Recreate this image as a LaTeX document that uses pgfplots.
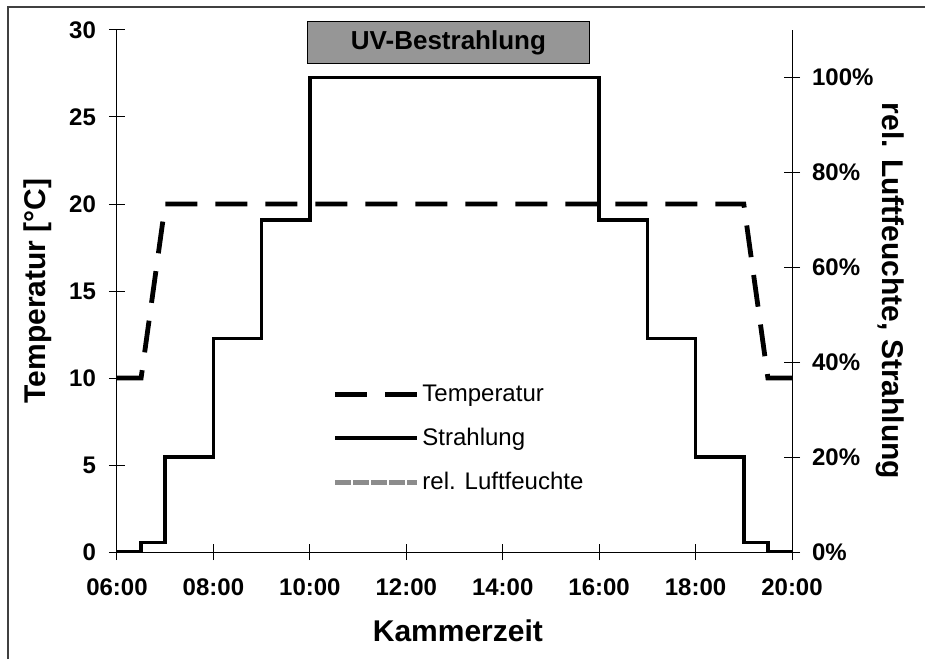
\documentclass[border=0pt]{standalone}
\usepackage{fontspec}
\setmainfont{Liberation Sans}
\usepackage{pgfplots}
\pgfplotsset{compat=1.18}
\definecolor{uvgray}{RGB}{150,150,150}
\definecolor{rhgray}{RGB}{140,140,140}
\begin{document}
\begin{tikzpicture}
\pgfplotsset{
  every axis/.append style={
    width=337.5pt, height=261pt, scale only axis,
    xmin=6, xmax=20,
    /pgf/number format/assume math mode=true,
    tick align=center, major tick length=8pt,
    tick style={black, line width=0.5pt},
    axis line style={black, line width=0.5pt},
    ticklabel style={font=\bfseries\fontsize{12}{14}\selectfont},
    label style={font=\bfseries\fontsize{15}{18}\selectfont},
  }
}
\begin{axis}[
  at={(0,0)}, anchor=south west,
  axis x line*=bottom, axis y line*=left,
  ymin=0, ymax=30, ytick={0,5,...,30},
  xtick={6,8,...,20},
  xticklabels={06:00,08:00,10:00,12:00,14:00,16:00,18:00,20:00},
  xticklabel style={yshift=-6pt},
  yticklabel style={xshift=-3pt},
  xlabel={Kammerzeit}, ylabel={Temperatur [°C]},
  xlabel style={at={(axis description cs:0.505,-0.15)}, anchor=center},
  ylabel style={at={(axis description cs:-0.117,0.5)}, anchor=center},
  clip=false,
  legend style={draw=none, fill=none, at={(0.31,0.335)}, anchor=north west,
    font=\fontsize{12}{14}\selectfont, row sep=9pt,
    nodes={inner sep=1.5pt}},
  legend cell align=left,
  legend image code/.code={\draw[#1] (0pt,0pt) -- (41pt,0pt);},
]
\addplot[black, line width=2.4pt, dash pattern=on 16pt off 9pt] coordinates {
(6,10) (6.5,10) (7,20) (19,20) (19.5,10) (20,10)};
\addlegendentry{Temperatur}
\addlegendimage{black, line width=1.8pt}
\addlegendentry{Strahlung}
\addlegendimage{rhgray, line width=2.2pt, dash pattern=on 8pt off 1pt}
\addlegendentry{rel. Luftfeuchte}
\draw[fill=uvgray, draw=black, line width=0.5pt] (axis cs:9.96,28.05) rectangle (axis cs:15.79,30.46)
  node[midway, font=\bfseries\fontsize{13}{15}\selectfont] {UV-Bestrahlung};
\end{axis}
\begin{axis}[
  at={(0,0)}, anchor=south west,
  axis x line=none, axis y line*=right,
  ymin=0, ymax=110, ytick={0,20,...,100},
  yticklabel={\pgfmathprintnumber{\tick}\%},
  yticklabel style={xshift=2.5pt},
  ylabel={rel. Luftfeuchte, Strahlung},
  ylabel style={at={(axis description cs:1.145,0.5)}, anchor=center, rotate=180,
    font=\bfseries\fontsize{15}{18}\selectfont},
]
\addplot[black, line width=1.8pt] coordinates {
(6,0) (6.5,0) (6.5,2) (7,2) (7,20) (8,20) (8,45) (9,45) (9,70) (10,70) (10,100)
(16,100) (16,70) (17,70) (17,45) (18,45) (18,20) (19,20) (19,2) (19.5,2) (19.5,0) (20,0)};
\end{axis}
\pgfresetboundingbox
\useasboundingbox (-58.5pt,-53.5pt) rectangle (404pt,276pt);
\draw[black!75, line width=0.8pt] (-54.5pt,-53.5pt) -- (-54.5pt,272.5pt) -- (404pt,272.5pt);
\end{tikzpicture}
\end{document}
